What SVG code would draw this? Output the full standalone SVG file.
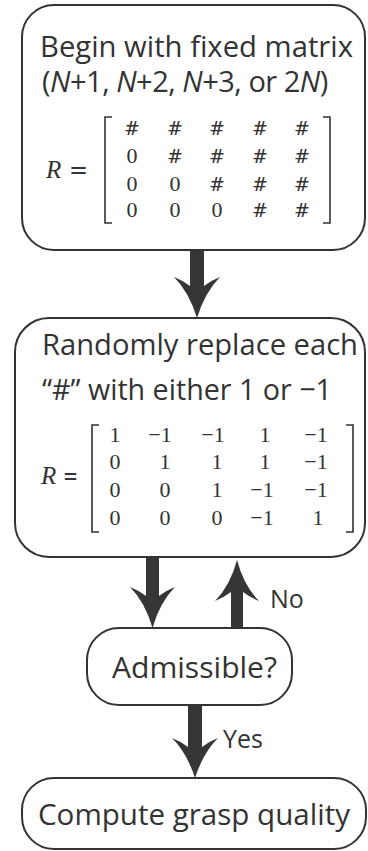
<svg xmlns="http://www.w3.org/2000/svg" width="368" height="851" viewBox="0 0 368 851">
<style>
.box{fill:#fff;stroke:#333;stroke-width:2}
.t{font-family:"Open Sans","Noto Sans",sans-serif;fill:#333;font-size:30px}
.lbl{font-family:"Open Sans","Noto Sans",sans-serif;fill:#333;font-size:25px}
.m{font-family:"Liberation Serif","DejaVu Serif",serif;fill:#333;font-size:22px;text-anchor:middle}
.h{font-family:"DejaVu Serif","Liberation Serif",serif;font-size:19px;font-weight:300}
.r{font-family:"Liberation Serif","DejaVu Serif",serif;fill:#333;font-size:25px;font-style:italic}
.eq{font-family:"DejaVu Serif","Liberation Serif",serif;fill:#333;font-size:24px}
.br{fill:none;stroke:#333;stroke-width:1.6}
.arr{fill:#363636}
</style>
<rect width="368" height="851" fill="#fff"/>
<g id="connectors">
<path class="arr" d="M190,250 L204,250 L204,286 Q212,280 220,277 Q205,292 197,318 Q189,292 174,277 Q182,280 190,286 Z"/>
<path class="arr" d="M146,557 L159,557 L159,596 Q167,590 175,587 Q160,602 152.5,628 Q145,602 130,587 Q138,590 146,596 Z"/>
<path class="arr" d="M231,628 L243,628 L243,592 Q251,598 259,601 Q244,586 237,560 Q230,586 215,601 Q223,598 231,592 Z"/>
<path class="arr" d="M188,706 L202,706 L202,747 Q210,741 218,738 Q203,753 195,778 Q187,753 172,738 Q180,741 188,747 Z"/>
<text class="lbl" x="270" y="608">No</text>
<text class="lbl" x="223" y="748">Yes</text>
</g>
<g id="node1">
<rect class="box" x="22" y="5" width="343" height="245" rx="32"/>
<text class="t" x="40" y="57" textLength="313" lengthAdjust="spacingAndGlyphs">Begin with fixed matrix</text>
<text class="t" x="42" y="92" style="font-size:29px;letter-spacing:-0.5px">(<tspan font-style="italic">N</tspan>+1, <tspan font-style="italic">N</tspan>+2, <tspan font-style="italic">N</tspan>+3, or 2<tspan font-style="italic">N</tspan>)</text>
<text class="r" x="46" y="178">R</text>
<text class="eq" x="69" y="178" textLength="19" lengthAdjust="spacingAndGlyphs">=</text>
<path class="br" d="M112,117 L105,117 L105,223 L112,223"/>
<path class="br" d="M323,117 L330,117 L330,223 L323,223"/>
<g class="m">
<text class="h" x="132" y="135">#</text><text class="h" x="175" y="135">#</text><text class="h" x="217" y="135">#</text><text class="h" x="260" y="135">#</text><text class="h" x="302" y="135">#</text>
<text x="132" y="163">0</text><text class="h" x="175" y="163">#</text><text class="h" x="217" y="163">#</text><text class="h" x="260" y="163">#</text><text class="h" x="302" y="163">#</text>
<text x="132" y="191">0</text><text x="175" y="191">0</text><text class="h" x="217" y="191">#</text><text class="h" x="260" y="191">#</text><text class="h" x="302" y="191">#</text>
<text x="132" y="217">0</text><text x="175" y="217">0</text><text x="217" y="217">0</text><text class="h" x="260" y="217">#</text><text class="h" x="302" y="217">#</text>
</g>
</g>
<g id="node2">
<rect class="box" x="15" y="318" width="350" height="239" rx="34"/>
<text class="t" x="42" y="355" textLength="316" lengthAdjust="spacingAndGlyphs">Randomly replace each</text>
<text class="t" x="42" y="400" textLength="290" lengthAdjust="spacingAndGlyphs">“#” with either 1 or −1</text>
<text class="r" x="41" y="484">R</text>
<text class="eq" x="63" y="484" textLength="15" lengthAdjust="spacingAndGlyphs">=</text>
<path class="br" d="M99,425 L92,425 L92,532 L99,532"/>
<path class="br" d="M346,425 L353,425 L353,532 L346,532"/>
<g class="m">
<text x="115" y="442">1</text><text x="160" y="442">−1</text><text x="213" y="442">−1</text><text x="265" y="442">1</text><text x="316" y="442">−1</text>
<text x="115" y="469">0</text><text x="165" y="469">1</text><text x="217" y="469">1</text><text x="265" y="469">1</text><text x="316" y="469">−1</text>
<text x="115" y="497">0</text><text x="165" y="497">0</text><text x="217" y="497">1</text><text x="262" y="497">−1</text><text x="316" y="497">−1</text>
<text x="115" y="525">0</text><text x="165" y="525">0</text><text x="217" y="525">0</text><text x="262" y="525">−1</text><text x="318" y="525">1</text>
</g>
</g>
<g id="node3">
<rect class="box" x="87" y="628" width="205" height="77" rx="32"/>
<text class="t" x="112" y="678" textLength="165" lengthAdjust="spacingAndGlyphs">Admissible?</text>
</g>
<g id="node4">
<rect class="box" x="22" y="778" width="344" height="71" rx="32"/>
<text class="t" x="38" y="825" textLength="312" lengthAdjust="spacingAndGlyphs">Compute grasp quality</text>
</g>
</svg>
